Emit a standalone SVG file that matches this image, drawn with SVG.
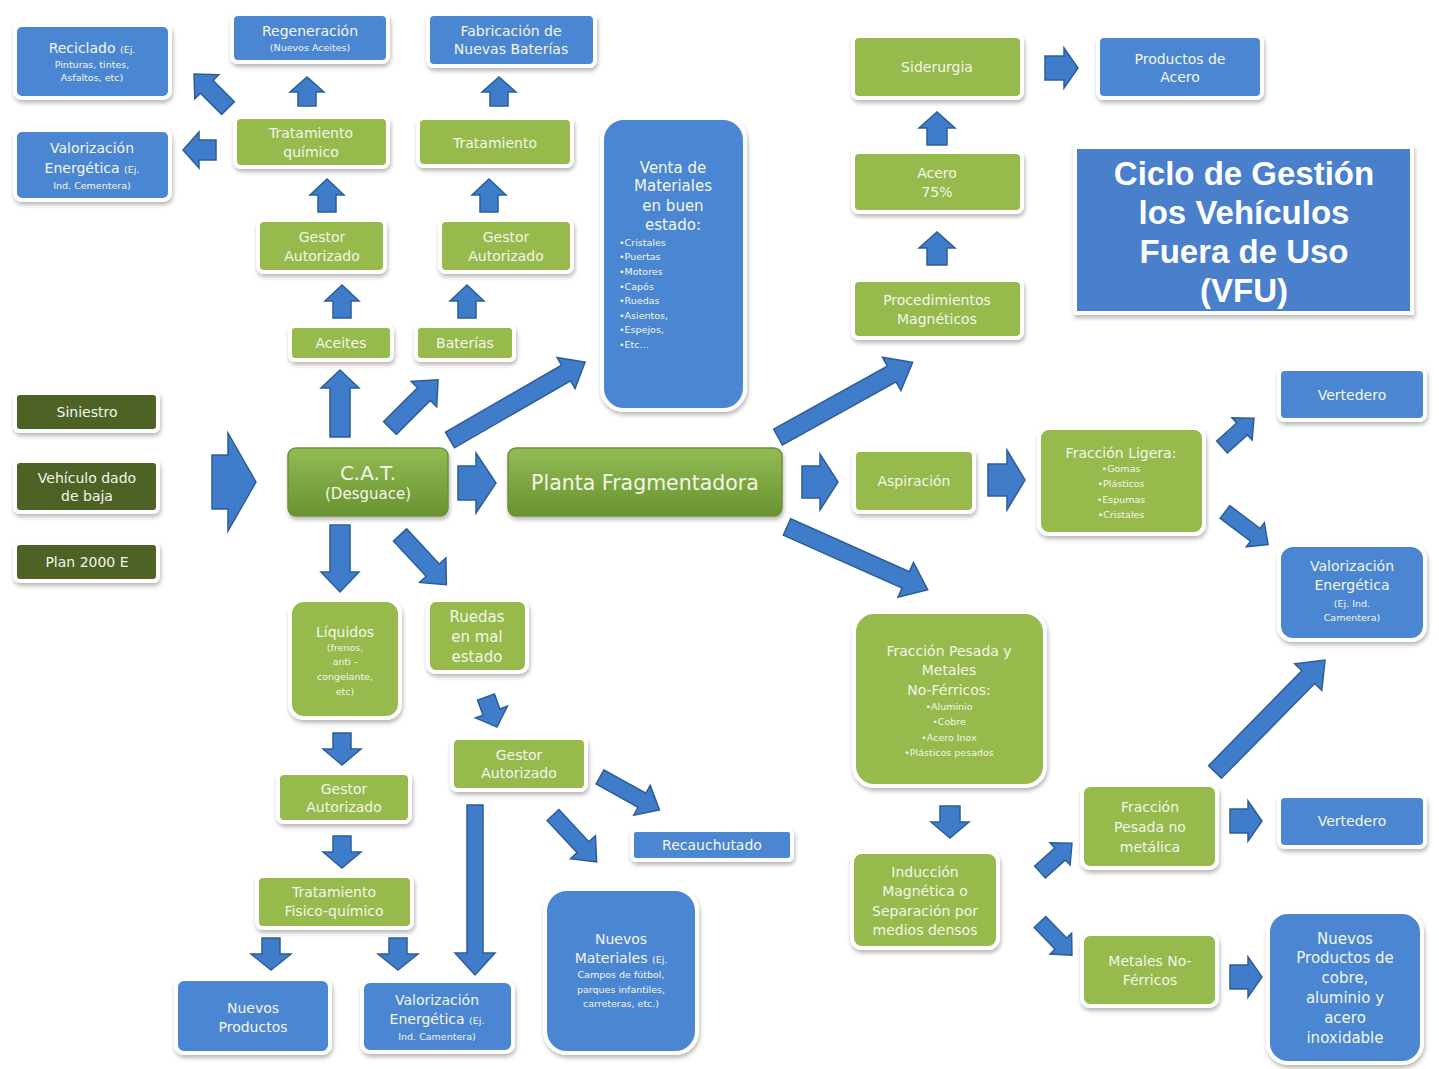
<svg xmlns="http://www.w3.org/2000/svg" width="1439" height="1069" viewBox="0 0 1439 1069">
<defs>
<filter id="sh" x="-10%" y="-10%" width="130%" height="140%"><feDropShadow dx="1" dy="3" stdDeviation="2" flood-color="#000" flood-opacity="0.28"/></filter>
<linearGradient id="gg" x1="0" y1="0" x2="0" y2="1"><stop offset="0" stop-color="#94bb55"/><stop offset="1" stop-color="#68932f"/></linearGradient>
<style>
.bx{stroke:#ffffff;stroke-width:4;filter:url(#sh)}
.g{fill:#97ba4e}
.b{fill:#4b86d2}
.dg{fill:#4f6228}
.gg{fill:url(#gg);stroke:#6f8f3a;stroke-width:1.5;filter:url(#sh)}
text{font-family:"DejaVu Sans","Liberation Sans",sans-serif;fill:#f3f6ea;text-anchor:middle;font-size:14px}
.s{font-size:9.5px}
.l{text-anchor:start}
.title{font-family:"Liberation Sans",sans-serif;font-weight:bold;font-size:33px;fill:#ffffff}
.arr{fill:#3f7dcb;stroke:#2c5d99;stroke-width:1.5}
</style>
</defs>
<rect width="1439" height="1069" fill="#ffffff"/>

<g id="connectors">
<path class="arr" transform="translate(212,482)" d="M0,-27H16V-49L44,0L16,49V27H0Z"/>
<path class="arr" transform="translate(340,437) rotate(-90)" d="M0,-10H49V-19L67,0L49,19V10H0Z"/>
<path class="arr" transform="translate(390,428) rotate(-45)" d="M0,-9H48V-18L68,0L48,18V9H0Z"/>
<path class="arr" transform="translate(450,440) rotate(-30)" d="M0,-9H134V-18L156,0L134,18V9H0Z"/>
<path class="arr" transform="translate(458,483)" d="M0,-17H18V-30L38,0L18,30V17H0Z"/>
<path class="arr" transform="translate(340,525) rotate(90)" d="M0,-10H47V-19L67,0L47,19V10H0Z"/>
<path class="arr" transform="translate(400,535) rotate(47)" d="M0,-9H48V-18L68,0L48,18V9H0Z"/>
<path class="arr" transform="translate(342,318) rotate(-90)" d="M0,-9H17V-17L33,0L17,17V9H0Z"/>
<path class="arr" transform="translate(467,318) rotate(-90)" d="M0,-9H17V-17L33,0L17,17V9H0Z"/>
<path class="arr" transform="translate(327,212) rotate(-90)" d="M0,-9H17V-17L33,0L17,17V9H0Z"/>
<path class="arr" transform="translate(489,212) rotate(-90)" d="M0,-9H17V-17L33,0L17,17V9H0Z"/>
<path class="arr" transform="translate(307,106) rotate(-90)" d="M0,-9H14V-17L29,0L14,17V9H0Z"/>
<path class="arr" transform="translate(499,106) rotate(-90)" d="M0,-9H14V-17L29,0L14,17V9H0Z"/>
<path class="arr" transform="translate(228,108) rotate(-135)" d="M0,-9H30V-17L48,0L30,17V9H0Z"/>
<path class="arr" transform="translate(216,150) rotate(180)" d="M0,-10H17V-18L33,0L17,18V10H0Z"/>
<path class="arr" transform="translate(778,437) rotate(-29)" d="M0,-9H130V-19L154,0L130,19V9H0Z"/>
<path class="arr" transform="translate(802,482)" d="M0,-16H18V-28L36,0L18,28V16H0Z"/>
<path class="arr" transform="translate(787,527) rotate(24)" d="M0,-9H130V-19L154,0L130,19V9H0Z"/>
<path class="arr" transform="translate(937,265) rotate(-90)" d="M0,-10H17V-18L33,0L17,18V10H0Z"/>
<path class="arr" transform="translate(937,145) rotate(-90)" d="M0,-10H17V-18L33,0L17,18V10H0Z"/>
<path class="arr" transform="translate(1045,68)" d="M0,-12H19V-20L33,0L19,20V12H0Z"/>
<path class="arr" transform="translate(988,480)" d="M0,-16H19V-30L37,0L19,30V16H0Z"/>
<path class="arr" transform="translate(1222,447) rotate(-42)" d="M0,-8H27V-15L43,0L27,15V8H0Z"/>
<path class="arr" transform="translate(1225,512) rotate(37)" d="M0,-8H38V-15L54,0L38,15V8H0Z"/>
<path class="arr" transform="translate(950,806) rotate(90)" d="M0,-10H16V-19L32,0L16,19V10H0Z"/>
<path class="arr" transform="translate(1040,872) rotate(-42)" d="M0,-8H27V-15L43,0L27,15V8H0Z"/>
<path class="arr" transform="translate(1040,922) rotate(46)" d="M0,-8H30V-15L46,0L30,15V8H0Z"/>
<path class="arr" transform="translate(1230,821)" d="M0,-12H18V-20L32,0L18,20V12H0Z"/>
<path class="arr" transform="translate(1215,772) rotate(-45.5)" d="M0,-9H133V-19L157,0L133,19V9H0Z"/>
<path class="arr" transform="translate(1230,977)" d="M0,-12H18V-20L32,0L18,20V12H0Z"/>
<path class="arr" transform="translate(342,733) rotate(90)" d="M0,-9H16V-19L32,0L16,19V9H0Z"/>
<path class="arr" transform="translate(342,836) rotate(90)" d="M0,-9H16V-19L32,0L16,19V9H0Z"/>
<path class="arr" transform="translate(271,938) rotate(90)" d="M0,-9H16V-20L32,0L16,20V9H0Z"/>
<path class="arr" transform="translate(398,938) rotate(90)" d="M0,-9H16V-20L32,0L16,20V9H0Z"/>
<path class="arr" transform="translate(486,697) rotate(70)" d="M0,-9H16V-17L32,0L16,17V9H0Z"/>
<path class="arr" transform="translate(475,805) rotate(90)" d="M0,-8H148V-20L170,0L148,20V8H0Z"/>
<path class="arr" transform="translate(553,815) rotate(47)" d="M0,-8H44V-17L64,0L44,17V8H0Z"/>
<path class="arr" transform="translate(600,777) rotate(29)" d="M0,-8H48V-17L68,0L48,17V8H0Z"/>
</g>

<g id="reciclado"><rect class="bx b" x="15" y="25" width="155" height="73" rx="7"/>
<text x="92" y="53">Reciclado <tspan class="s">(Ej.</tspan></text>
<text class="s" x="92" y="68">Pinturas, tintes,</text><text class="s" x="92" y="81">Asfaltos, etc)</text></g>

<g id="valorizacion-top"><rect class="bx b" x="15" y="130" width="155" height="70" rx="7"/>
<text x="92" y="153">Valorización</text>
<text x="92" y="173">Energética <tspan class="s">(Ej.</tspan></text>
<text class="s" x="92" y="189">Ind. Cementera)</text></g>

<g id="regeneracion"><rect class="bx b" x="232" y="14" width="156" height="48" rx="6"/>
<text x="310" y="36">Regeneración</text><text class="s" x="310" y="51">(Nuevos Aceites)</text></g>

<g id="fabricacion"><rect class="bx b" x="428" y="14" width="167" height="52" rx="6"/>
<text x="511" y="36">Fabricación de</text><text x="511" y="54">Nuevas Baterías</text></g>

<g id="tratamiento-quimico"><rect class="bx g" x="235" y="117" width="153" height="50" rx="6"/>
<text x="311" y="138">Tratamiento</text><text x="311" y="157">químico</text></g>

<g id="tratamiento"><rect class="bx g" x="418" y="118" width="154" height="48" rx="6"/>
<text x="495" y="148">Tratamiento</text></g>

<g id="gestor-aceites"><rect class="bx g" x="258" y="220" width="127" height="52" rx="6"/>
<text x="322" y="242">Gestor</text><text x="322" y="261">Autorizado</text></g>

<g id="gestor-baterias"><rect class="bx g" x="440" y="220" width="132" height="52" rx="6"/>
<text x="506" y="242">Gestor</text><text x="506" y="261">Autorizado</text></g>

<g id="aceites"><rect class="bx g" x="290" y="326" width="102" height="34" rx="5"/>
<text x="341" y="348">Aceites</text></g>

<g id="baterias"><rect class="bx g" x="416" y="326" width="98" height="34" rx="5"/>
<text x="465" y="348">Baterías</text></g>

<g id="venta"><rect class="bx b" x="602" y="118" width="143" height="292" rx="22"/>
<text x="673" y="173" style="font-size:15px">Venta de</text>
<text x="673" y="191" style="font-size:15px">Materiales</text>
<text x="673" y="211" style="font-size:15px">en buen</text>
<text x="673" y="230" style="font-size:15px">estado:</text>
<text class="s l" x="619" y="246">•Cristales</text>
<text class="s l" x="619" y="260">•Puertas</text>
<text class="s l" x="619" y="275">•Motores</text>
<text class="s l" x="619" y="290">•Capós</text>
<text class="s l" x="619" y="304">•Ruedas</text>
<text class="s l" x="619" y="319">•Asientos,</text>
<text class="s l" x="619" y="333">•Espejos,</text>
<text class="s l" x="619" y="348">•Etc…</text></g>

<g id="siderurgia"><rect class="bx g" x="853" y="36" width="169" height="62" rx="6"/>
<text x="937" y="72">Siderurgia</text></g>

<g id="productos-acero"><rect class="bx b" x="1098" y="36" width="164" height="62" rx="6"/>
<text x="1180" y="64">Productos de</text><text x="1180" y="82">Acero</text></g>

<g id="acero"><rect class="bx g" x="853" y="152" width="169" height="60" rx="6"/>
<text x="937" y="178">Acero</text><text x="937" y="197">75%</text></g>

<g id="procedimientos"><rect class="bx g" x="853" y="280" width="169" height="58" rx="6"/>
<text x="937" y="305">Procedimientos</text><text x="937" y="324">Magnéticos</text></g>

<g id="titulo"><rect class="bx" x="1075" y="147" width="337" height="166" fill="#4a7fcb"/>
<text class="title" x="1244" y="185">Ciclo de Gestión</text>
<text class="title" x="1244" y="224">los Vehículos</text>
<text class="title" x="1244" y="263">Fuera de Uso</text>
<text class="title" x="1244" y="302">(VFU)</text></g>

<g id="siniestro"><rect class="bx dg" x="15" y="393" width="143" height="38" rx="5"/>
<text x="87" y="417">Siniestro</text></g>

<g id="vehiculo"><rect class="bx dg" x="15" y="461" width="143" height="51" rx="5"/>
<text x="87" y="483">Vehículo dado</text><text x="87" y="501">de baja</text></g>

<g id="plan2000"><rect class="bx dg" x="15" y="543" width="143" height="38" rx="5"/>
<text x="87" y="567">Plan 2000 E</text></g>

<g id="cat"><rect class="gg" x="288" y="448" width="160" height="68" rx="8"/>
<text x="368" y="480" style="font-size:20px">C.A.T.</text>
<text x="368" y="499" style="font-size:15px">(Desguace)</text></g>

<g id="planta"><rect class="gg" x="508" y="448" width="274" height="68" rx="8"/>
<text x="645" y="490" style="font-size:20.5px">Planta Fragmentadora</text></g>

<g id="aspiracion"><rect class="bx g" x="854" y="450" width="120" height="62" rx="6"/>
<text x="914" y="486">Aspiración</text></g>

<g id="fraccion-ligera"><rect class="bx g" x="1039" y="428" width="165" height="106" rx="10"/>
<text x="1121" y="458">Fracción Ligera:</text>
<text class="s" x="1121" y="472">•Gomas</text>
<text class="s" x="1121" y="487">•Plásticos</text>
<text class="s" x="1121" y="503">•Espumas</text>
<text class="s" x="1121" y="518">•Cristales</text></g>

<g id="vertedero-1"><rect class="bx b" x="1279" y="369" width="146" height="51" rx="6"/>
<text x="1352" y="400">Vertedero</text></g>

<g id="valorizacion-right"><rect class="bx b" x="1279" y="545" width="146" height="95" rx="14"/>
<text x="1352" y="571">Valorización</text>
<text x="1352" y="590">Energética</text>
<text class="s" x="1352" y="607">(Ej. Ind.</text>
<text class="s" x="1352" y="621">Camentera)</text></g>

<g id="fraccion-pesada"><rect class="bx g" x="854" y="612" width="191" height="174" rx="20"/>
<text x="949" y="656">Fracción Pesada y</text>
<text x="949" y="675">Metales</text>
<text x="949" y="695">No-Férricos:</text>
<text class="s" x="949" y="710">•Aluminio</text>
<text class="s" x="949" y="725">•Cobre</text>
<text class="s" x="949" y="741">•Acero  Inox</text>
<text class="s" x="949" y="756">•Plásticos pesados</text></g>

<g id="induccion"><rect class="bx g" x="852" y="852" width="146" height="96" rx="10"/>
<text x="925" y="877">Inducción</text>
<text x="925" y="896">Magnética o</text>
<text x="925" y="916">Separación por</text>
<text x="925" y="935">medios densos</text></g>

<g id="fraccion-no-metalica"><rect class="bx g" x="1082" y="785" width="135" height="83" rx="8"/>
<text x="1150" y="812">Fracción</text>
<text x="1150" y="832">Pesada no</text>
<text x="1150" y="852">metálica</text></g>

<g id="vertedero-2"><rect class="bx b" x="1279" y="796" width="146" height="51" rx="6"/>
<text x="1352" y="826">Vertedero</text></g>

<g id="metales"><rect class="bx g" x="1082" y="934" width="135" height="72" rx="8"/>
<text x="1150" y="966">Metales No-</text>
<text x="1150" y="985">Férricos</text></g>

<g id="nuevos-productos-cobre"><rect class="bx b" x="1268" y="912" width="154" height="151" rx="20"/>
<text x="1345" y="944" style="font-size:15px">Nuevos</text>
<text x="1345" y="963" style="font-size:15px">Productos de</text>
<text x="1345" y="983" style="font-size:15px">cobre,</text>
<text x="1345" y="1003" style="font-size:15px">aluminio y</text>
<text x="1345" y="1023" style="font-size:15px">acero</text>
<text x="1345" y="1043" style="font-size:15px">inoxidable</text></g>

<g id="liquidos"><rect class="bx g" x="290" y="600" width="110" height="118" rx="14"/>
<text x="345" y="637">Líquidos</text>
<text class="s" x="345" y="651">(frenos,</text>
<text class="s" x="345" y="665">anti -</text>
<text class="s" x="345" y="680">congelante,</text>
<text class="s" x="345" y="695">etc)</text></g>

<g id="ruedas"><rect class="bx g" x="428" y="600" width="99" height="72" rx="8"/>
<text x="477" y="622" style="font-size:15px">Ruedas</text>
<text x="477" y="642" style="font-size:15px">en mal</text>
<text x="477" y="662" style="font-size:15px">estado</text></g>

<g id="gestor-liquidos"><rect class="bx g" x="278" y="773" width="132" height="49" rx="6"/>
<text x="344" y="794">Gestor</text><text x="344" y="812">Autorizado</text></g>

<g id="gestor-ruedas"><rect class="bx g" x="452" y="738" width="134" height="52" rx="6"/>
<text x="519" y="760">Gestor</text><text x="519" y="778">Autorizado</text></g>

<g id="tratamiento-fisico"><rect class="bx g" x="257" y="876" width="155" height="52" rx="6"/>
<text x="334" y="897">Tratamiento</text><text x="334" y="916">Fisico-químico</text></g>

<g id="recauchutado"><rect class="bx b" x="632" y="830" width="160" height="30" rx="4"/>
<text x="712" y="850">Recauchutado</text></g>

<g id="nuevos-productos"><rect class="bx b" x="176" y="979" width="154" height="74" rx="8"/>
<text x="253" y="1013">Nuevos</text><text x="253" y="1032">Productos</text></g>

<g id="valorizacion-bottom"><rect class="bx b" x="362" y="981" width="151" height="71" rx="8"/>
<text x="437" y="1005">Valorización</text>
<text x="437" y="1024">Energética <tspan class="s">(Ej.</tspan></text>
<text class="s" x="437" y="1040">Ind. Camentera)</text></g>

<g id="nuevos-materiales"><rect class="bx b" x="545" y="889" width="152" height="164" rx="22"/>
<text x="621" y="944">Nuevos</text>
<text x="621" y="963">Materiales <tspan class="s">(Ej.</tspan></text>
<text class="s" x="621" y="978">Campos de fútbol,</text>
<text class="s" x="621" y="993">parques infantiles,</text>
<text class="s" x="621" y="1007">carreteras, etc.)</text></g>
</svg>
